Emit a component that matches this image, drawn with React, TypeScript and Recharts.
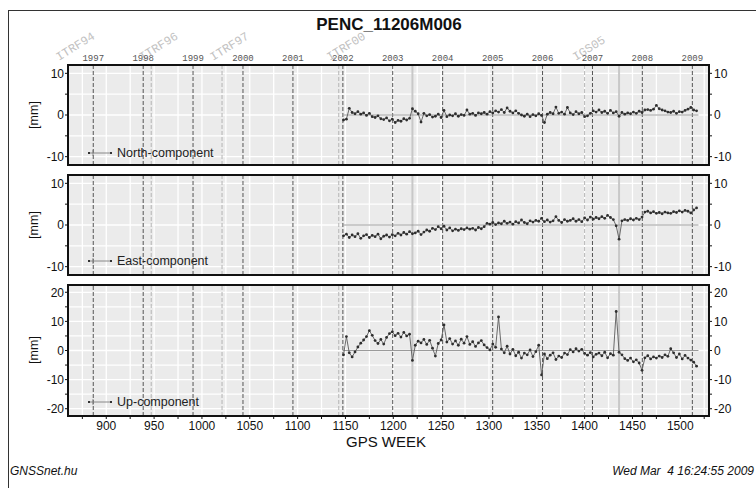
import React from 'react';
import { LineChart, Line, XAxis, YAxis, CartesianGrid, ReferenceLine } from 'recharts';

const WEEKS = [
  1148, 1151, 1154, 1157, 1160, 1163, 1166, 1169, 1172, 1175,
  1178, 1181, 1184, 1187, 1190, 1193, 1196, 1199, 1202, 1205,
  1208, 1211, 1214, 1217, 1220, 1223, 1226, 1229, 1232, 1235,
  1238, 1241, 1244, 1247, 1250, 1253, 1256, 1259, 1262, 1265,
  1268, 1271, 1274, 1277, 1280, 1283, 1286, 1289, 1292, 1295,
  1298, 1301, 1304, 1307, 1310, 1313, 1316, 1319, 1322, 1325,
  1328, 1331, 1334, 1337, 1340, 1343, 1346, 1349, 1352, 1355,
  1358, 1361, 1364, 1367, 1370, 1373, 1376, 1379, 1382, 1385,
  1388, 1391, 1394, 1397, 1400, 1403, 1406, 1409, 1412, 1415,
  1418, 1421, 1424, 1427, 1430, 1433, 1436, 1439, 1442, 1445,
  1448, 1451, 1454, 1457, 1460, 1463, 1466, 1469, 1472, 1475,
  1478, 1481, 1484, 1487, 1490, 1493, 1496, 1499, 1502, 1505,
  1508, 1511, 1514, 1517,
];

const NORTH = [
  -1.2, -1.0, 1.6, 0.6, 0.3, 0.8, 0.2, 0.5, -0.1, 0.4,
  -0.4, -0.6, -0.2, -0.9, -1.1, -0.7, -1.4, -1.0, -1.8, -1.3,
  -1.5, -0.9, -1.2, -0.8, 1.5, 0.9, 0.3, -1.7, 0.4, -0.2,
  0.1, -0.5, -0.3, 0.2, -0.6, 1.1, -0.4, 0.0, -0.2, 0.3,
  -0.3, 0.1, -0.1, 1.2, 0.2, 0.4, -0.1, 0.5, 0.3, 0.6,
  0.2, 0.8, 0.5, 1.0, 0.7, 1.3, 0.6, 1.7, 0.9, 0.5,
  1.0, 0.4, 0.0, -0.3, 0.2, -0.4, 0.1, -0.2, 0.3, -0.1,
  -1.8, 0.2, 0.6, 0.3, 1.9, 0.4, 0.7, 0.2, 1.8, 0.5,
  0.1, 0.8, 0.3, 0.6, -0.4, -0.2, 0.4, 1.0, 0.7, 1.2,
  0.6, 0.9, 0.4, 1.1, 0.5, 0.8, -0.3, 0.6, 0.2, 0.5,
  0.3, 0.7, 0.4, 0.9, 0.6, 1.2, 1.3, 1.1, 1.4, 2.3,
  1.5, 1.2, 1.0, 0.7, 0.6, 0.9, 0.4, 0.8, 0.7, 1.1,
  1.4, 1.8, 1.2, 1.0,
];

const EAST = [
  -2.6, -2.2, -3.0, -2.4, -2.8, -2.1, -3.2, -2.6, -2.3, -3.0,
  -2.5, -2.8, -2.2, -3.3, -2.7, -2.4, -2.9, -2.3, -2.6, -2.0,
  -2.4, -1.8, -2.2, -1.6, -2.1, -1.9, -1.5, -2.3, -1.7, -1.2,
  -1.5, -0.8, -1.1, -0.4, -0.9, -0.3, -1.2, -0.7, -1.4, -1.0,
  -1.3, -0.9, -1.1, -0.7, -1.0, -0.8, -1.2, -0.6, -0.9, -0.4,
  0.4, 0.2, 0.6, 0.1, 0.5, 0.3, 0.9, 0.4, 0.7, 0.2,
  0.8, 0.5, 1.2, 0.6, 0.3, 1.0, 0.7, 1.1, 0.9, 1.6,
  0.8, 1.2, 0.7, 1.0, 2.0, 1.1, 0.6, 1.3, 0.9, 1.1,
  1.5, 0.9, 1.3, 0.8, 1.7, 1.2, 1.9, 1.4, 1.8, 1.5,
  2.0, 1.6, 2.3, 1.8, 1.3, -0.2, -3.4, 1.0, 1.3, 1.1,
  1.5, 1.2, 1.6, 1.3, 1.9, 3.1, 3.3, 2.9, 3.2, 2.8,
  3.0, 2.7, 3.1, 2.9, 2.8, 3.2, 3.0, 3.4, 3.1, 3.5,
  3.3, 2.9, 3.6, 4.1,
];

const UP = [
  -1.5, 4.8, -0.8, -2.2, -0.5, 1.2, 2.5, 3.6, 4.8, 6.8,
  5.2, 3.4, 2.4, 3.8, 2.2, 4.5, 5.8, 6.4, 5.1, 5.9,
  4.6, 6.2, 5.0, 5.6, -3.4, 1.8, 3.2, 2.6, 3.8, 2.1,
  3.5, 0.8, -1.9, 2.4, 3.6, 8.8, 2.9, 4.1, 2.2, 3.3,
  1.8, 3.9, 2.5, 4.8, 2.1, 3.0, 1.4, 2.6, 3.4, 1.9,
  1.0, 0.2, 2.2, 1.1, 11.5, 0.5, -0.8, 1.5, -1.2, 0.4,
  -1.8, -0.6, -2.6, -0.9, -1.5, 0.2, -2.1, -0.4, 1.8, -8.4,
  -1.2, -2.8, -1.6, -0.8, -3.1, -1.9, -2.4, -0.9, -1.4, 0.3,
  -0.5, 0.6, -0.2, 0.4, -1.0, -1.6, -0.7, -2.2, -1.3, -0.9,
  -1.8, -0.6, -2.5, -1.1, -1.6, 13.4, -0.6, -1.5, -2.8, -3.4,
  -2.6, -3.9, -3.2, -4.3, -6.8, -2.5, -1.8, -2.9, -2.2, -2.6,
  -1.9, -2.4, -1.5, -2.0, 0.6, -0.8, -2.4, -1.2, -2.9, -1.7,
  -2.6, -3.3, -4.0, -5.4,
];

const YEAR_LABELS = ['1997', '1998', '1999', '2000', '2001', '2002', '2003', '2004', '2005', '2006', '2007', '2008', '2009'];
const YEAR_WEEKS = [886.4, 938.6, 990.7, 1042.9, 1095.1, 1147.3, 1199.4, 1251.6, 1303.9, 1356.0, 1408.2, 1460.3, 1512.6];
const FRAME_NAMES = ['ITRF94', 'ITRF96', 'ITRF97', 'ITRF00', 'IGS05'];
const FRAME_WEEKS = [860, 947, 1021, 1143, 1400];
const EQUIP_WEEKS = [1220, 1436];
const REF_START = 1147;
const REF_END = 1519;
const X_DOMAIN = [860, 1530];
const X_TICKS = [875, 900, 925, 950, 975, 1000, 1025, 1050, 1075, 1100, 1125, 1150, 1175, 1200, 1225, 1250, 1275, 1300, 1325, 1350, 1375, 1400, 1425, 1450, 1475, 1500, 1525];
const NE_DOMAIN = [-12, 12];
const NE_TICKS = [-10, -5, 0, 5, 10];
const UP_DOMAIN = [-22.5, 22.5];
const UP_TICKS = [-20, -15, -10, -5, 0, 5, 10, 15, 20];

const DATA = WEEKS.map((w, i) => ({ week: w, north: NORTH[i], east: EAST[i], up: UP[i] }));

const FONT = '"Liberation Sans", Arial, Helvetica, sans-serif';

const YearLabel = (props: any) => {
  const vb = props.viewBox || {};
  return (
    <text x={vb.x} y={vb.y - 4} textAnchor="middle" fontSize={9} fontFamily='"Liberation Mono", "DejaVu Sans Mono", monospace' fill="#555">
      {props.text}
    </text>
  );
};

const FrameLabel = (props: any) => {
  const vb = props.viewBox || {};
  const x = vb.x - 9;
  const y = vb.y - 4;
  return (
    <text x={x} y={y} transform={`rotate(-32 ${x} ${y})`} fontSize={12} fontFamily='"Liberation Mono", "DejaVu Sans Mono", monospace' fill="#c2c2c2">
      {props.text}
    </text>
  );
};

const yFmt = (v: number) => (v % 10 === 0 ? String(v) : '');
const xFmt = (v: number) => (v % 50 === 0 ? String(v) : '');

type PanelProps = {
  top: number;
  height: number;
  mTop: number;
  mBottom: number;
  dataKey: string;
  domain: number[];
  ticks: number[];
  showX: boolean;
  showTop: boolean;
};

function Panel({ top, height, mTop, mBottom, dataKey, domain, ticks, showX, showTop }: PanelProps) {
  const tickStyle = { fontSize: 12, fill: '#111', fontFamily: FONT };
  return (
    <div style={{ position: 'absolute', left: 0, top, width: 756, height }}>
      <LineChart width={756} height={height} data={DATA} margin={{ top: mTop, right: 7, bottom: mBottom, left: 28 }}>
        <CartesianGrid fill="#ebebeb" fillOpacity={1} stroke="#ffffff" strokeWidth={1.3} />
        <XAxis
          dataKey="week"
          type="number"
          domain={X_DOMAIN}
          ticks={X_TICKS}
          allowDataOverflow
          hide={!showX}
          height={30}
          tickFormatter={xFmt}
          tick={tickStyle}
          tickSize={3}
          tickMargin={2}
          axisLine={false}
          tickLine={{ stroke: '#111' }}
          interval={0}
        />
        <YAxis
          domain={domain}
          ticks={ticks}
          allowDataOverflow
          width={40}
          tickFormatter={yFmt}
          tick={tickStyle}
          tickSize={3}
          tickMargin={1}
          axisLine={false}
          tickLine={{ stroke: '#111' }}
          interval={0}
        />
        <YAxis
          yAxisId="right"
          orientation="right"
          domain={domain}
          ticks={ticks}
          allowDataOverflow
          width={40}
          tickFormatter={yFmt}
          tick={tickStyle}
          tickSize={3}
          tickMargin={2}
          axisLine={false}
          tickLine={{ stroke: '#111' }}
          interval={0}
        />
        {FRAME_WEEKS.map((w, i) => (
          <ReferenceLine
            key={'f' + i}
            x={w}
            stroke="#b5b5b5"
            strokeDasharray="4 2"
            label={showTop ? <FrameLabel text={FRAME_NAMES[i]} /> : undefined}
          />
        ))}
        {EQUIP_WEEKS.map((w, i) => (
          <ReferenceLine key={'e' + i} x={w} stroke="#c8c8c8" strokeWidth={2} />
        ))}
        {YEAR_WEEKS.map((w, i) => (
          <ReferenceLine
            key={'y' + i}
            x={w}
            stroke="#555"
            strokeDasharray="4 2"
            label={showTop ? <YearLabel text={YEAR_LABELS[i]} /> : undefined}
          />
        ))}
        <ReferenceLine
          segment={[{ x: REF_START, y: 0 }, { x: REF_END, y: 0 }]}
          stroke="#9a9a9a"
          strokeWidth={1}
        />
        <Line
          type="linear"
          dataKey={dataKey}
          stroke="#5a5a5a"
          strokeWidth={0.9}
          dot={{ r: 1.4, fill: '#2e2e2e', stroke: 'none' }}
          isAnimationActive={false}
        />
      </LineChart>
    </div>
  );
}

const legendStyle = (top: number): React.CSSProperties => ({
  position: 'absolute',
  left: 86,
  top: top - 9,
  height: 18,
  display: 'flex',
  alignItems: 'center',
  fontFamily: FONT,
  fontSize: 12.5,
  color: '#222',
  whiteSpace: 'nowrap',
});

const LegendItem = ({ top, text }: { top: number; text: string }) => (
  <div style={legendStyle(top)}>
    <svg width={28} height={8} style={{ marginRight: 3 }}>
      <line x1={3} y1={4} x2={25} y2={4} stroke="#888" strokeWidth={1} />
      <rect x={2} y={3} width={2} height={2} fill="#333" />
      <rect x={24} y={3} width={2} height={2} fill="#333" />
      <line x1={7} y1={1} x2={7} y2={7} stroke="#777" strokeWidth={0.8} />
    </svg>
    <span>{text}</span>
  </div>
);

const mmStyle = (cy: number): React.CSSProperties => ({
  position: 'absolute',
  left: 34 - 30,
  top: cy - 8,
  width: 60,
  height: 16,
  lineHeight: '16px',
  textAlign: 'center',
  transform: 'rotate(-90deg)',
  fontFamily: FONT,
  fontSize: 12.5,
  color: '#111',
});

const borderStyle = (top: number, height: number): React.CSSProperties => ({
  position: 'absolute',
  left: 67,
  top: top - 1,
  width: 643,
  height: height + 2,
  border: '2px solid #111',
  boxSizing: 'border-box',
  pointerEvents: 'none',
});

export default function App() {
  return (
    <div style={{ position: 'absolute', left: 0, top: 0, width: 756, height: 488, overflow: 'hidden', background: '#fff', fontFamily: FONT }}>
      <div style={{ position: 'absolute', left: 8, top: 10, width: 760, height: 490, borderLeft: '1px solid #333', borderTop: '1px solid #333' }} />
      <div style={{ position: 'absolute', left: 239, top: 14, width: 300, textAlign: 'center', fontSize: 17, fontWeight: 'bold', color: '#111', lineHeight: '22px' }}>
        PENC_11206M006
      </div>

      <Panel top={0} height={170} mTop={65} mBottom={5} dataKey="north" domain={NE_DOMAIN} ticks={NE_TICKS} showX={false} showTop={true} />
      <Panel top={170} height={110} mTop={5} mBottom={5} dataKey="east" domain={NE_DOMAIN} ticks={NE_TICKS} showX={false} showTop={false} />
      <Panel top={280} height={208} mTop={5} mBottom={42} dataKey="up" domain={UP_DOMAIN} ticks={UP_TICKS} showX={true} showTop={false} />

      <div style={borderStyle(65, 100)} />
      <div style={borderStyle(175, 100)} />
      <div style={borderStyle(285, 131)} />

      <div style={mmStyle(115)}>[mm]</div>
      <div style={mmStyle(225)}>[mm]</div>
      <div style={mmStyle(350)}>[mm]</div>

      <LegendItem top={153} text="North-component" />
      <LegendItem top={261} text="East-component" />
      <LegendItem top={402} text="Up-component" />

      <div style={{ position: 'absolute', left: 286, top: 433, width: 200, textAlign: 'center', fontSize: 15, color: '#111', lineHeight: '18px' }}>
        GPS WEEK
      </div>
      <div style={{ position: 'absolute', left: 10, top: 463, fontSize: 12, fontStyle: 'italic', color: '#111', lineHeight: '16px' }}>
        GNSSnet.hu
      </div>
      <div style={{ position: 'absolute', right: 2, top: 463, fontSize: 12, fontStyle: 'italic', color: '#111', lineHeight: '16px', whiteSpace: 'pre' }}>
        {'Wed Mar  4 16:24:55 2009'}
      </div>
    </div>
  );
}
